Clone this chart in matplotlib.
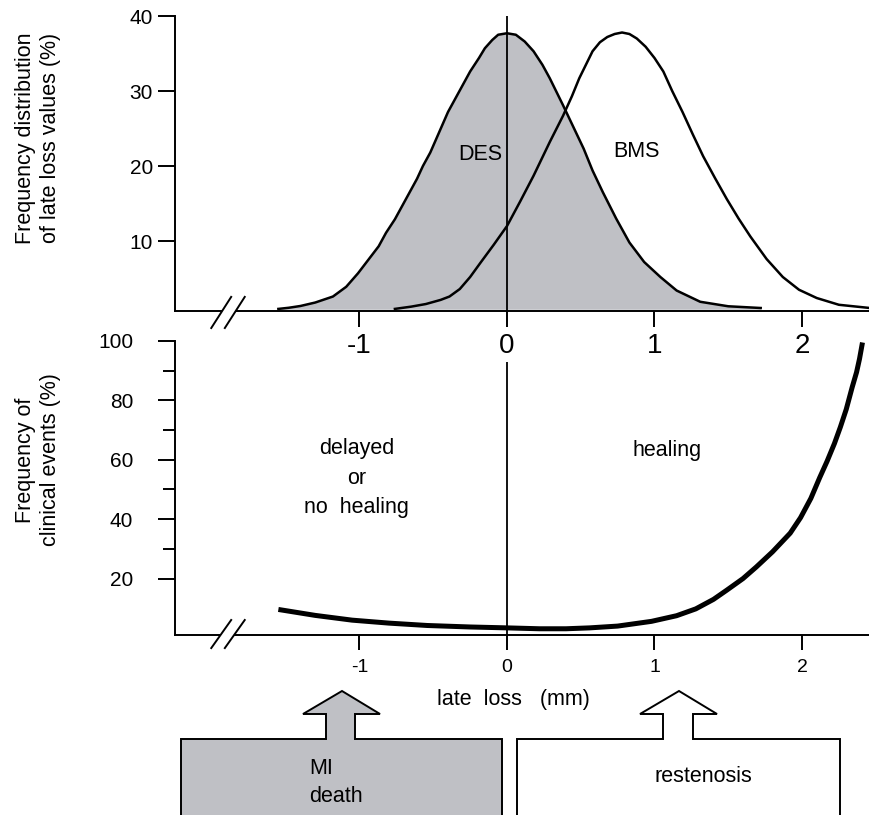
import numpy as np
import matplotlib.pyplot as plt
from matplotlib.patches import Polygon
from matplotlib.transforms import blended_transform_factory

plt.rcParams['font.family'] = ['Liberation Sans', 'DejaVu Sans']

# late loss distributions (%)
des_x = [-1.55, -1.48, -1.40, -1.30, -1.18, -1.09, -1.01, -0.94, -0.87, -0.82, -0.76,
         -0.71, -0.66, -0.61, -0.57, -0.52, -0.48, -0.44, -0.40, -0.35, -0.30, -0.25,
         -0.19, -0.15, -0.10, -0.06, 0.0, 0.06, 0.12, 0.18, 0.24, 0.29, 0.38, 0.45,
         0.52, 0.58, 0.65, 0.74, 0.83, 0.93, 1.04, 1.15, 1.31, 1.50, 1.72]
des_y = [0.95, 1.1, 1.34, 1.8, 2.6, 3.9, 5.7, 7.5, 9.3, 11.1, 12.9,
         14.7, 16.5, 18.3, 20.0, 21.8, 23.6, 25.4, 27.2, 29.0, 30.8, 32.6,
         34.4, 35.7, 36.8, 37.5, 37.7, 37.5, 36.6, 35.3, 33.5, 31.7, 28.1, 25.2,
         22.3, 19.4, 16.5, 13.0, 9.8, 7.2, 5.2, 3.4, 1.9, 1.3, 1.07]

bms_x = [-0.76, -0.65, -0.55, -0.45, -0.39, -0.32, -0.25, -0.18, -0.09, 0.0, 0.09,
         0.18, 0.29, 0.38, 0.44, 0.49, 0.54, 0.58, 0.63, 0.68, 0.73, 0.78, 0.83,
         0.88, 0.94, 1.00, 1.06, 1.12, 1.19, 1.26, 1.33, 1.41, 1.49, 1.57, 1.65,
         1.76, 1.87, 1.98, 2.10, 2.25, 2.46]
bms_y = [0.95, 1.25, 1.6, 2.15, 2.6, 3.6, 5.2, 7.1, 9.5, 12.0, 15.3,
         18.7, 23.2, 26.7, 29.3, 31.7, 33.7, 35.3, 36.5, 37.2, 37.6, 37.8, 37.6,
         37.0, 35.9, 34.4, 32.6, 30.0, 27.2, 24.2, 21.3, 18.4, 15.6, 13.0, 10.6,
         7.6, 5.2, 3.5, 2.4, 1.5, 1.07]

# frequency of clinical events (%)
ev_x = [-1.55, -1.30, -1.05, -0.80, -0.54, -0.25, 0.0, 0.22, 0.40, 0.56, 0.75, 0.98,
        1.15, 1.28, 1.40, 1.49, 1.60, 1.69, 1.80, 1.92, 1.99, 2.06, 2.12, 2.17,
        2.22, 2.26, 2.30, 2.34, 2.37, 2.39, 2.41]
ev_y = [9.6, 7.6, 6.0, 5.0, 4.2, 3.7, 3.4, 3.1, 3.1, 3.4, 4.0, 5.6,
        7.5, 9.8, 13.0, 16.1, 20.0, 23.9, 29.0, 35.3, 40.5, 47.0, 54.0, 59.5,
        65.5, 71.0, 77.0, 84.4, 89.5, 94.0, 99.5]

xticks = [-1, 0, 1, 2]
xtick_labels = ['-1', '0', '1', '2']
top_yticks = [10, 20, 30, 40]
bot_yticks = [20, 40, 60, 80, 100]
bot_minor = [30, 50, 70, 90]

grey = '#bfc0c5'
W, H = 870, 815
xlim = ((175 - 507) / 147.5, (870 - 507) / 147.5)

fig = plt.figure(figsize=(W / 100, H / 100), dpi=100)
ax1 = fig.add_axes([175 / W, 1 - 311 / H, 695 / W, 295 / H])
ax2 = fig.add_axes([175 / W, 1 - 635 / H, 695 / W, 294 / H])
ax2.patch.set_visible(False)

for ax in (ax1, ax2):
    ax.set_xlim(*xlim)
    for s in ('top', 'right'):
        ax.spines[s].set_visible(False)
    for s in ('left', 'bottom'):
        ax.spines[s].set_linewidth(1.4)
    ax.set_xticks(xticks)
    ax.set_xticklabels(xtick_labels)

# top panel
ax1.set_ylim(0.67, 40)
ax1.axvline(0, color='k', lw=1.3, zorder=4)
ax1.fill_between(des_x, des_y, 0.9, color=grey, lw=0, zorder=1)
ax1.plot(des_x, des_y, color='k', lw=1.8, solid_joinstyle='round', zorder=3)
ax1.plot(bms_x, bms_y, color='k', lw=1.8, solid_joinstyle='round', zorder=3)
ax1.set_yticks(top_yticks)
ax1.tick_params(axis='y', length=12, width=1.4, labelsize=15, pad=4)
ax1.tick_params(axis='x', length=11.5, width=1.4, labelsize=20, pad=4)
ax1.text(-0.18, 21.6, 'DES', fontsize=15.5, ha='center', va='center', zorder=5)
ax1.text(0.875, 22.0, 'BMS', fontsize=15.5, ha='center', va='center', zorder=5)

# bottom panel
ax2.set_ylim(1.0, 100)
ax2.vlines(0, 1.0, 92.8, color='k', lw=1.3, zorder=4)
ax2.plot(ev_x, ev_y, color='k', lw=3.6, solid_capstyle='butt',
         solid_joinstyle='round', zorder=3)
ax2.set_yticks(bot_yticks)
ax2.set_yticks(bot_minor, minor=True)
ax2.tick_params(axis='y', which='major', length=12, width=1.4, labelsize=15, pad=18)
ax2.tick_params(axis='y', which='minor', length=8.5, width=1.4)
ax2.tick_params(axis='x', length=10.5, width=1.4, labelsize=14, pad=7)
ax2.text(-1.02, 53.8, 'delayed\nor\nno  healing', fontsize=15.5, ha='center',
         va='center', linespacing=1.55)
ax2.text(1.085, 63.2, 'healing', fontsize=15.5, ha='center', va='center')

# axis break marks
for ax, y0, y1 in ((ax1, -1.6, 2.55), (ax2, -3.4, 6.05)):
    bx = [-2.005, -1.87]
    d = 0.092
    gap = Polygon([[bx[0], y0], [bx[1], y1], [bx[1] + d, y1], [bx[0] + d, y0]],
                  closed=True, facecolor='white', edgecolor='none',
                  clip_on=False, zorder=6)
    ax.add_patch(gap)
    for off in (0, d):
        ax.plot([bx[0] + off, bx[1] + off], [y0, y1], color='k', lw=1.4,
                clip_on=False, zorder=7)

fig.text(38 / W, 1 - 138 / H, 'Frequency distribution\nof late loss values (%)',
         rotation=90, ha='center', va='center', fontsize=15.5, linespacing=1.3)
fig.text(38 / W, 1 - 460 / H, 'Frequency of\nclinical events (%)',
         rotation=90, ha='center', va='center', fontsize=15.5, linespacing=1.3)
fig.text(513 / W, 1 - 700 / H, 'late  loss   (mm)', ha='center', va='center',
         fontsize=15.5)

# outcome boxes with arrows, x in late loss units, y in figure fraction
tr = blended_transform_factory(ax2.transData, fig.transFigure)


def fy(py):
    return 1 - py / H


def px(p):
    return (p - 507) / 147.5


boxes = [
    # left, right, shaft l, shaft r, head l, head r, tip, face
    (181, 502, 326, 355, 303, 380, 342, grey),
    (517, 840, 663, 693, 640, 717, 679, 'white'),
]
for l, r, sl, sr, hl, hr, tip, fc in boxes:
    pts = [(l, 830), (l, 739), (sl, 739), (sl, 714), (hl, 714), (tip, 691),
           (hr, 714), (sr, 714), (sr, 739), (r, 739), (r, 830)]
    poly = Polygon([(px(a), fy(b)) for a, b in pts], closed=True, facecolor=fc,
                   edgecolor='k', lw=1.4, transform=tr, clip_on=False, zorder=5)
    ax2.add_artist(poly)

fig.text(309 / W, fy(768), 'MI', ha='left', va='center', fontsize=15.5)
fig.text(309 / W, fy(796), 'death', ha='left', va='center', fontsize=15.5)
fig.text(703 / W, fy(777), 'restenosis', ha='center', va='center', fontsize=15.5)

fig.savefig('out.png', dpi=100)
